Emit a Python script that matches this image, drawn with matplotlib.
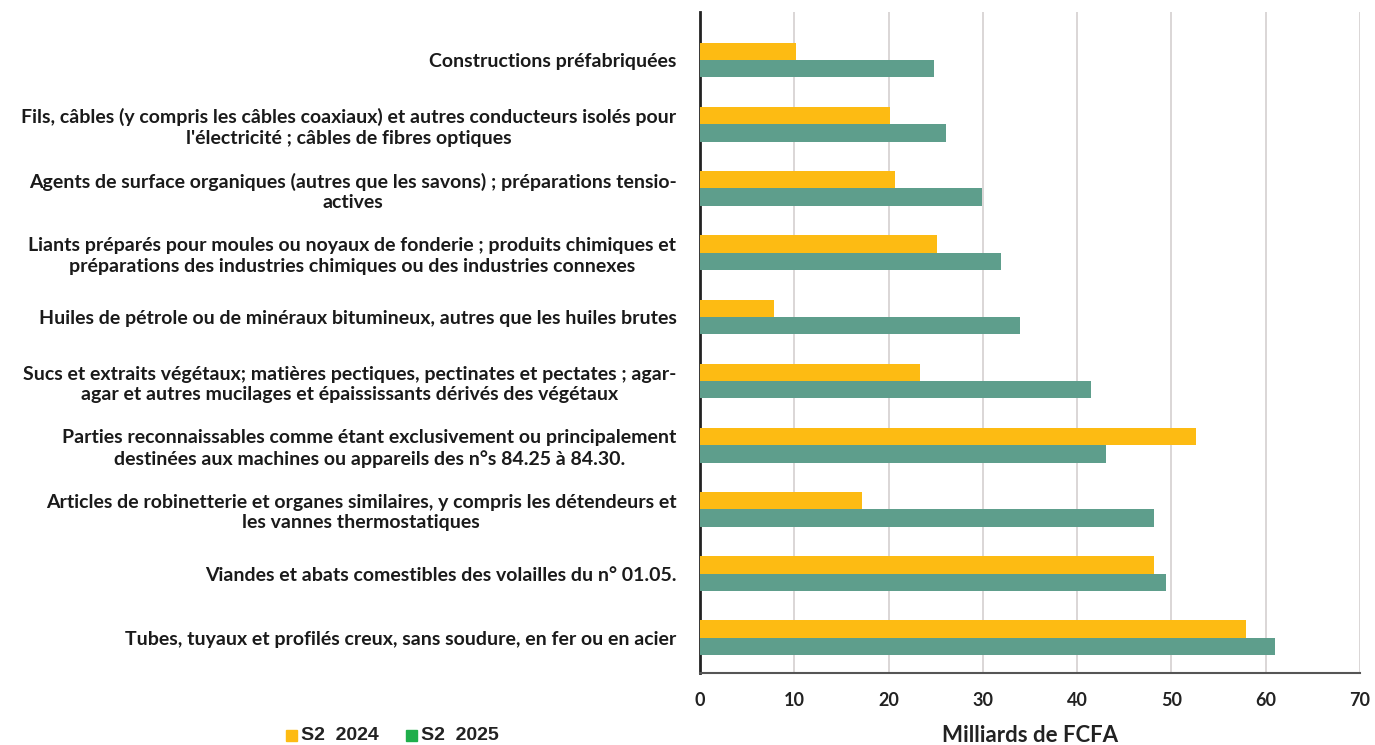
import matplotlib.pyplot as plt
import numpy as np

categories = [
    "Constructions préfabriquées",
    "Fils, câbles (y compris les câbles coaxiaux) et autres conducteurs isolés pour\nl'électricité ; câbles de fibres optiques",
    "Agents de surface organiques (autres que les savons) ; préparations tensio-\nactives",
    "Liants préparés pour moules ou noyaux de fonderie ; produits chimiques et\npréparations des industries chimiques ou des industries connexes",
    "Huiles de pétrole ou de minéraux bitumineux, autres que les huiles brutes",
    "Sucs et extraits végétaux; matières pectiques, pectinates et pectates ; agar-\nagar et autres mucilages et épaississants dérivés des végétaux",
    "Parties reconnaissables comme étant exclusivement ou principalement\ndestinées aux machines ou appareils des n°s 84.25 à 84.30.",
    "Articles de robinetterie et organes similaires, y compris les détendeurs et\nles vannes thermostatiques",
    "Viandes et abats comestibles des volailles du n° 01.05.",
    "Tubes, tuyaux et profilés creux, sans soudure, en fer ou en acier",
]
s2_2024 = [10.2, 20.1, 20.7, 25.1, 7.9, 23.3, 52.6, 17.2, 48.1, 57.9]
s2_2025 = [24.8, 26.1, 29.9, 31.9, 33.9, 41.5, 43.1, 48.2, 49.4, 61.0]

yellow = '#FDBB13'
teal = '#5E9E8C'

plt.rcParams['font.family'] = ['Lato', 'DejaVu Sans']

fig = plt.figure(figsize=(13.75, 7.45), dpi=100)
ax = fig.add_axes([700 / 1375, 1 - 673 / 745, 660 / 1375, (673 - 12) / 745])

y = np.arange(len(categories))
h = 0.27
ax.barh(y - h / 2, s2_2024, height=h, color=yellow, zorder=3)
ax.barh(y + h / 2, s2_2025, height=h, color=teal, zorder=3)

ax.set_ylim(len(categories) - 0.45, -0.75)
ax.set_xlim(0, 70)
ax.set_xticks(range(0, 71, 10))
ax.set_yticks(y)
ax.set_yticklabels(categories, fontsize=14, fontweight='bold', multialignment='center',
                   linespacing=1.25, color='#1a1a1a')
ax.tick_params(axis='y', length=0, pad=17)
ax.tick_params(axis='x', length=0, pad=14, labelsize=13, labelcolor='#222222')
for t in ax.get_xticklabels():
    t.set_fontweight('bold')
ax.xaxis.grid(True, color='#d4d0d0', linewidth=1.2, zorder=0)

for s in ['top', 'right']:
    ax.spines[s].set_visible(False)
ax.spines['left'].set_color('#222222')
ax.spines['left'].set_linewidth(2)
ax.spines['bottom'].set_color('#555555')
ax.spines['bottom'].set_linewidth(1.5)

fig.text(1030 / 1375, 1 - 735 / 745, 'Milliards de FCFA', ha='center', va='center',
         fontsize=16, fontweight='bold', color='#222222')

fig.patches.append(plt.Rectangle((286 / 1375, 1 - 741 / 745), 11 / 1375, 11 / 745,
                                 transform=fig.transFigure, color='#FDBB13'))
fig.text(301 / 1375, 1 - 735 / 745, 'S2  2024', ha='left', va='center', fontsize=14,
         fontweight='bold', color='#222222', family='Liberation Sans')
fig.patches.append(plt.Rectangle((406 / 1375, 1 - 741 / 745), 11 / 1375, 11 / 745,
                                 transform=fig.transFigure, color='#1FAE4B'))
fig.text(421 / 1375, 1 - 735 / 745, 'S2  2025', ha='left', va='center', fontsize=14,
         fontweight='bold', color='#222222', family='Liberation Sans')

fig.savefig('out.png', dpi=100)
